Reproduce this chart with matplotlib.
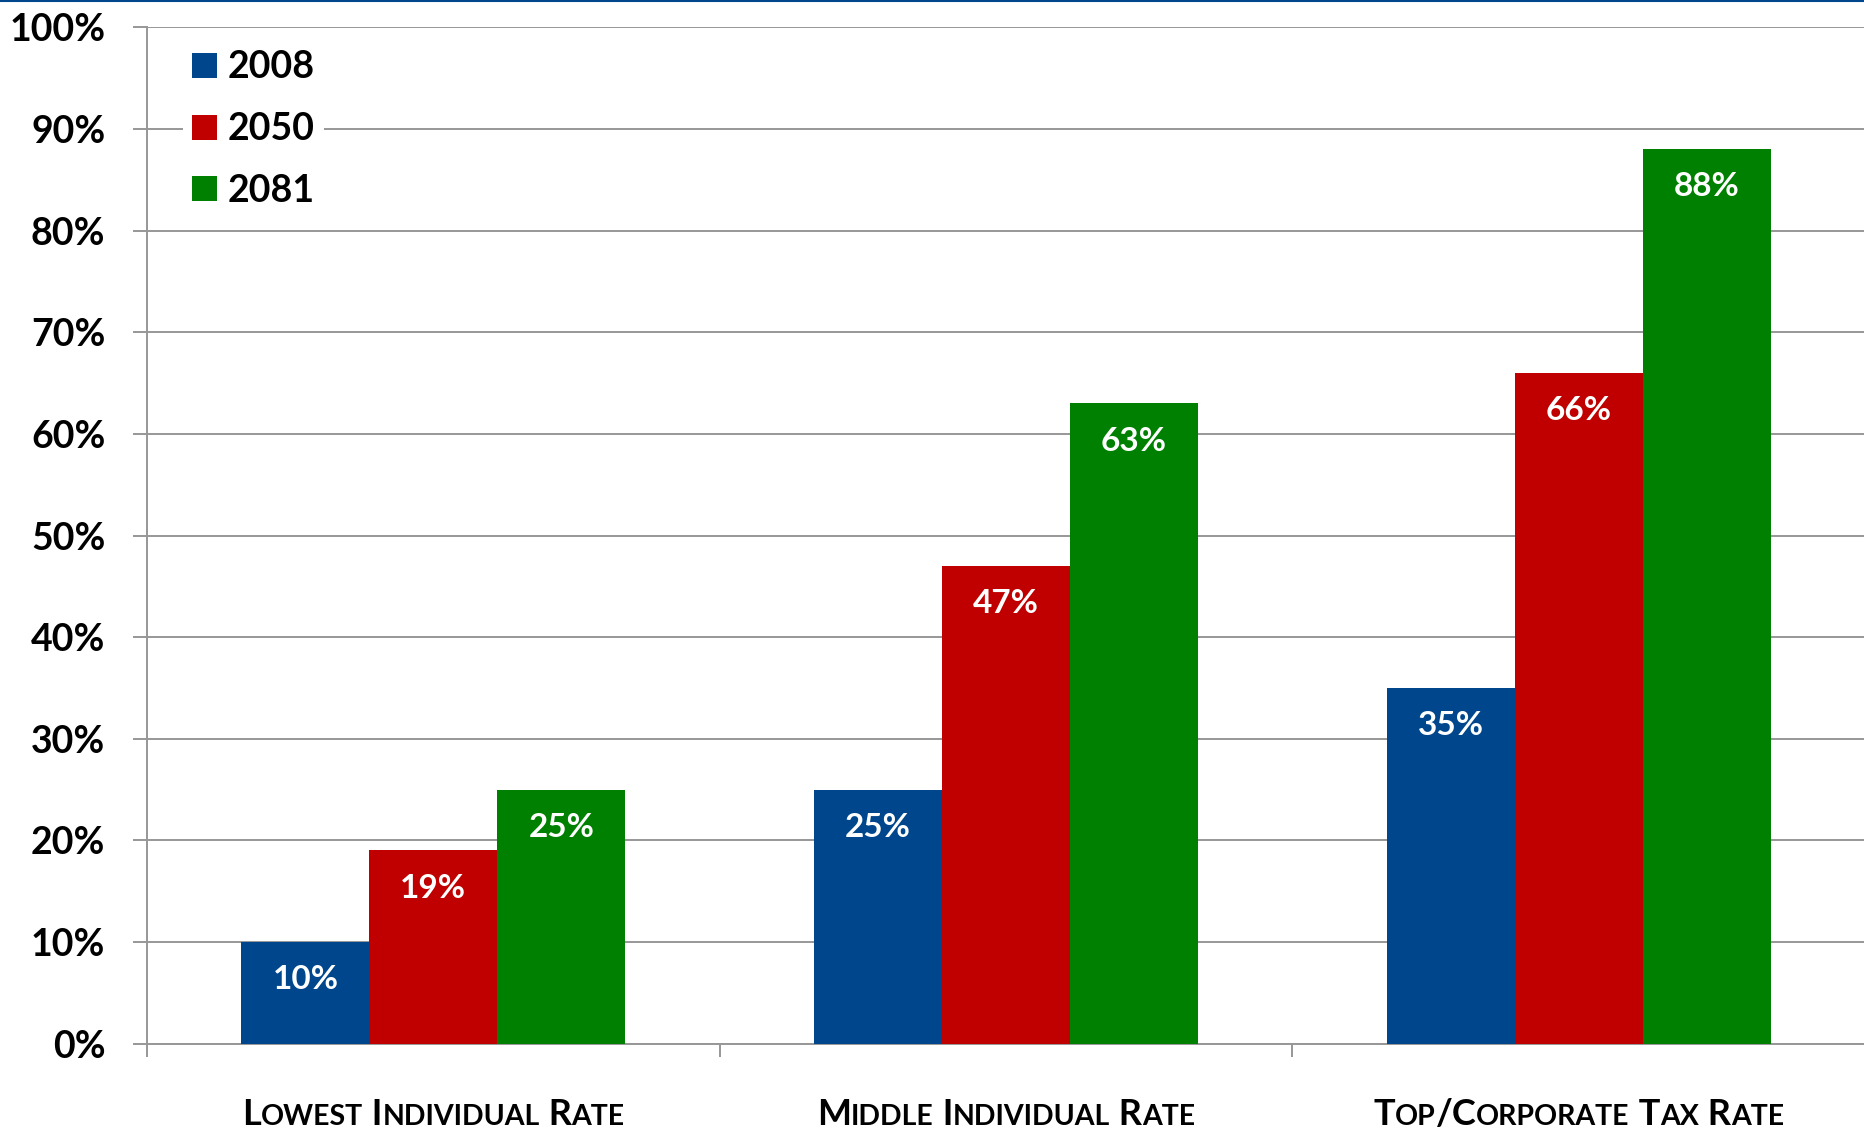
import matplotlib.pyplot as plt
import numpy as np
from matplotlib.patches import Patch
from matplotlib.lines import Line2D
from matplotlib.offsetbox import TextArea, HPacker, AnnotationBbox

plt.rcParams['font.family'] = ['Lato', 'DejaVu Sans']
plt.rcParams['font.weight'] = 'bold'

# tax rates needed, by year
categories = ['Lowest Individual Rate', 'Middle Individual Rate', 'Top/Corporate Tax Rate']
years = ['2008', '2050', '2081']
rate_2008 = [10, 25, 35]
rate_2050 = [19, 47, 66]
rate_2081 = [25, 63, 88]
colors = ['#00468C', '#C00000', '#008000']
grid_gray = '#979797'

fig = plt.figure(figsize=(18.65, 11.39), dpi=100)
ax = fig.add_axes([0.0788, 0.0838, 0.9212, 0.8921])

x = np.arange(len(categories))
w = 0.2234
for k, (vals, c) in enumerate(zip([rate_2008, rate_2050, rate_2081], colors)):
    pos = x + (k - 1) * w
    ax.bar(pos, vals, width=w, color=c, zorder=3, linewidth=0)
    for xi, v in zip(pos, vals):
        ax.text(xi, v - 3.7, f'{v}%', color='white', fontsize=24, fontweight='bold',
                ha='center', va='center', zorder=4)

ax.set_xlim(-0.5, 2.5)
ax.set_ylim(0, 100)
ax.set_yticks(np.arange(0, 101, 10))
ax.set_yticklabels([f'{t}%' for t in range(0, 101, 10)])
ax.tick_params(axis='y', direction='out', length=10, width=1.4, color=grid_gray,
               pad=20, labelsize=27)
ax.set_xticks([])
ax.set_xticks([-0.5, 0.5, 1.5, 2.5], minor=True)
ax.tick_params(axis='x', which='minor', direction='out', length=9.5, width=1.4,
               color=grid_gray, labelbottom=False)
ax.yaxis.grid(True, color=grid_gray, linewidth=1.4, zorder=0)
ax.set_axisbelow(True)
for s in ['top', 'right']:
    ax.spines[s].set_visible(False)
for s in ['left', 'bottom']:
    ax.spines[s].set_color(grid_gray)
    ax.spines[s].set_linewidth(1.4)

# legend in upper left corner
handles = [Patch(facecolor=c, edgecolor='none') for c in colors]
leg = ax.legend(handles, years, loc='upper left', bbox_to_anchor=(0.01, 1.005),
                fontsize=27, frameon=True, fancybox=False, framealpha=1,
                handlelength=0.65, handleheight=0.65, handletextpad=0.3,
                labelspacing=0.74, borderpad=0.25)
leg.get_frame().set_edgecolor('none')
leg.get_frame().set_facecolor('white')
leg.set_zorder(5)


# category names in small caps
def small_caps(label, big=26, small=20.5):
    parts = []
    for word_i, word in enumerate(label.split(' ')):
        txt = (' ' if word_i else '') + word
        buf, cur = '', None
        for ch in txt:
            is_big = ch.isupper() or not ch.isalpha()
            if cur is not None and is_big != cur:
                parts.append((buf, cur))
                buf = ''
            buf += ch
            cur = is_big
        parts.append((buf, cur))
    boxes = []
    for s, is_big in parts:
        boxes.append(TextArea(s.upper(), textprops=dict(
            fontsize=big if is_big else small, fontweight='bold', color='black')))
    return HPacker(children=boxes, align='baseline', pad=0, sep=0)


for xi, name in zip(x, categories):
    ab = AnnotationBbox(small_caps(name), (xi, 0), xycoords=('data', 'axes fraction'),
                        xybox=(0, -51), boxcoords='offset points',
                        box_alignment=(0.5, 0.5), frameon=False)
    ax.add_artist(ab)

# thin rule along the top edge
fig.add_artist(Line2D([0, 1], [0.999, 0.999], transform=fig.transFigure,
                      color='#00468C', linewidth=1.5))

plt.savefig('out.png', dpi=100)
